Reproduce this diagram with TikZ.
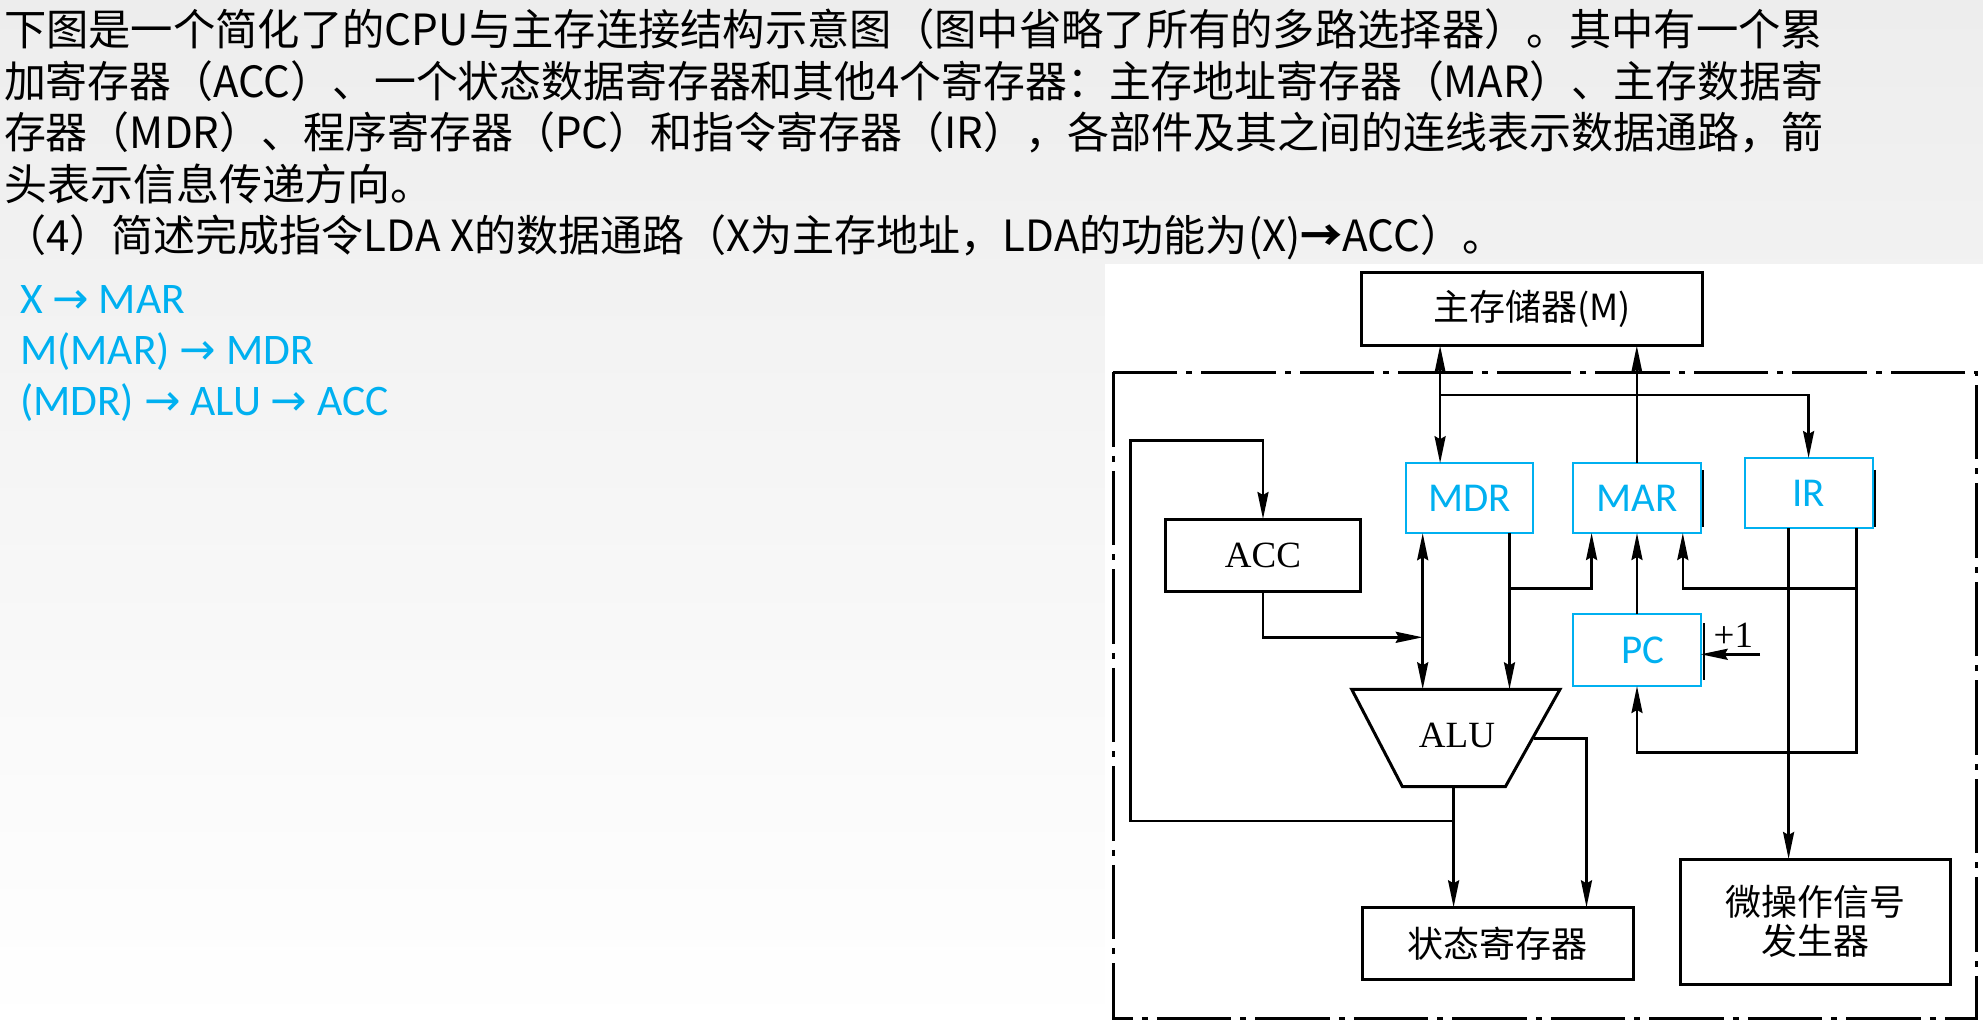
\documentclass[tikz,border=0pt]{standalone}
\usepackage{fontspec}
\usepackage{graphicx}
\usetikzlibrary{arrows.meta}
\newfontfamily\cjk{Noto Sans CJK SC}
\newfontfamily\calib{Carlito}
\newfontfamily\tnr{Liberation Serif}
\newfontfamily\symf{DejaVu Sans}
\definecolor{ansblue}{HTML}{00B0F0}
\definecolor{bgtop}{HTML}{EDEDED}

% set a line of text and stretch/shrink it horizontally to a given width
\newsavebox\fitbox
\newcommand\fitline[2]{%
  \sbox\fitbox{#2}%
  \pgfmathsetmacro\fitratio{#1/\the\wd\fitbox}%
  \scalebox{\fitratio}[1]{\usebox\fitbox}}

\begin{document}
\begin{tikzpicture}[x=0.5pt,y=-0.5pt,
  wire/.style={line width=1.3pt},
  tip/.tip={Stealth[length=13.5pt,width=5.5pt,inset=1.5pt]},
  arr/.style={wire,-tip},
  biarr/.style={wire,tip-tip},
  box/.style={draw,line width=1.5pt,inner sep=0pt,outer sep=0pt,fill=white},
  reg/.style={draw=ansblue,line width=1pt,fill=white,inner sep=0pt,outer sep=0pt,
    text=ansblue,font=\calib\fontsize{20.5}{24}\selectfont},
  serif/.style={font=\tnr\fontsize{18.5}{22}\selectfont},
  hanzi/.style={font=\cjk\fontsize{18}{19.25}\selectfont},
  para/.style={anchor=base west,inner sep=0pt,outer sep=0pt,
    font=\cjk\fontsize{21.5}{25}\selectfont},
  answer/.style={anchor=base west,inner sep=0pt,outer sep=0pt,text=ansblue,
    font=\calib\fontsize{21.8}{26}\selectfont},
  tick/.style={line width=1pt},
  frame/.style={line width=1.65pt,dash pattern=on 37.25pt off 4.5pt on 3pt off 4.5pt}]

% page background and the white drawing area
\useasboundingbox (0,0) rectangle (1983,1032);
\shade[top color=bgtop,bottom color=white] (0,0) rectangle (1983,1032);
\fill[white] (1105,264) rectangle (1983,1032);

% question text
\node[para] (q1) at (4,45.7) {\fitline{909.5pt}{下图是一个简化了的CPU与主存连接结构示意图（图中省略了所有的多路选择器）。其中有一个累}};
\node[para] (q2) at (4,97.2) {\fitline{909.5pt}{加寄存器（ACC）、一个状态数据寄存器和其他4个寄存器：主存地址寄存器（MAR）、主存数据寄}};
\node[para] (q3) at (4,148.7) {\fitline{909.5pt}{存器（MDR）、程序寄存器（PC）和指令寄存器（IR），各部件及其之间的连线表示数据通路，箭}};
\node[para] (q4) at (4,200.2) {头表示信息传递方向。};
\node[para] (q5) at (4,251.7) {\scalebox{0.978}[1]{（4）简述完成指令LDA X的数据通路（X为主存地址，LDA的功能为(X){\bfseries →}ACC）。}};

% answer
\node[answer] (a1) at (20,313.3) {X {\symf →} MAR};
\node[answer] (a2) at (20,364.6) {M(MAR) {\symf →} MDR};
\node[answer] (a3) at (20,415.9) {(MDR) {\symf →} ALU {\symf →} ACC};

% CPU boundary
\draw[frame] (1113.3,372.3) rectangle (1976.7,1018.3);

% units
\node[box,minimum width=170.25pt,minimum height=36.5pt,font=\cjk\fontsize{18}{21}\selectfont]
  (mem) at (1532.2,309.2) {主存储器(M)};
\node[reg,minimum width=63.6pt,minimum height=35pt] (mdr) at (1469.3,498.2) {MDR};
\node[reg,minimum width=63.75pt,minimum height=35pt] (mar) at (1636.8,498) {MAR};
\node[reg,minimum width=63.9pt,minimum height=34.85pt] (ir) at (1808.6,492.9) {IR};
\node[reg,minimum width=63.7pt,minimum height=36pt] (pc) at (1637,650) {\hspace{6pt}PC};
\node[box,serif,minimum width=97.2pt,minimum height=36pt] (acc) at (1263,555) {ACC};
\node[box,hanzi,minimum width=135.4pt,minimum height=36pt] (status) at (1497.8,943.3) {状态寄存器};
\node[box,hanzi,align=center,minimum width=135.1pt,minimum height=62.5pt] (micro) at (1815.1,921.5) {微操作信号\\发生器};

% ALU
\draw[line width=1.5pt,fill=white] (1351.7,689.3) -- (1560,689.3) -- (1505.4,786.7) -- (1402.4,786.7) -- cycle;
\node[serif,inner sep=0pt] (alu) at (1457,735.3) {ALU};
\coordinate (alutop) at (1456,689.3);
\coordinate (alubot) at (1453.6,786.7);
\coordinate (aluright) at (1533.6,738.3);

% stub marks beside the registers
\draw[tick] ([xshift=1.4pt]mar.east) ++(0,-28) -- ++(0,57);
\draw[tick] ([xshift=1.4pt]ir.east) ++(0,-23) -- ++(0,57);
\draw[tick] ([xshift=1.4pt]pc.east) ++(0,-27) -- ++(0,57);

% bus positions
\coordinate (busM) at (1440.1,0);
\coordinate (busL) at (1422.7,0);
\coordinate (busR) at (1509.5,0);
\coordinate (irC) at (1788.6,0);

% memory <-> MDR, MAR -> memory, branch to IR
\draw[biarr] (mem.south -| busM) -- (mdr.north -| busM);
\coordinate (jIR) at (1440.1,395);
\draw[arr] (jIR) -- (jIR -| ir.north) -- (ir.north);
\draw[arr] (mar.north) -- (mar.north |- mem.south);

% MDR <-> ALU, ACC -> ALU input
\draw[biarr] (mdr.south -| busL) -- (alutop -| busL);
\coordinate (accj) at (1263,637.3);
\draw[arr] (acc.south) -- (accj) -- (accj -| busL);

% MDR -> ALU and MDR -> MAR
\draw[arr] (mdr.south -| busR) -- (alutop -| busR);
\coordinate (jMAR) at (1509.5,588.3);
\coordinate (marL) at (1591.6,588.3);
\draw[arr] (jMAR) -- (marL) -- (marL |- mar.south);

% PC -> MAR
\draw[arr] (pc.north) -- (pc.north |- mar.south);

% IR -> PC, IR -> MAR
\coordinate (irR) at (1856.7,752.7);
\draw[arr] (ir.south -| irR) -- (irR) -- (irR -| pc.south) -- (pc.south);
\coordinate (irJ) at (1856.7,588.3);
\coordinate (marR) at (1682.8,588.3);
\draw[arr] (irJ) -- (marR) -- (marR |- mar.south);

% IR -> control signal generator
\draw[arr] (ir.south -| irC) -- (micro.north -| irC);

% ALU -> status register, ALU -> ACC
\draw[arr] (alubot) -- (alubot |- status.north);
\coordinate (fbJ) at (1453.6,821);
\coordinate (fbL) at (1130.7,821);
\coordinate (fbT) at (1130.7,440.7);
\draw[arr] (fbJ) -- (fbL) -- (fbT) -- (fbT -| acc.north) -- (acc.north);
\coordinate (outR) at (1586.5,738.3);
\draw[arr] (aluright) -- (outR) -- (outR |- status.north);

% PC increment
\coordinate (inc) at (1760,654.3);
\draw[arr] (inc) -- (inc -| pc.east);
\node[serif,inner sep=0pt] (plus) at (1733.4,635) {+1};
\end{tikzpicture}
\end{document}
